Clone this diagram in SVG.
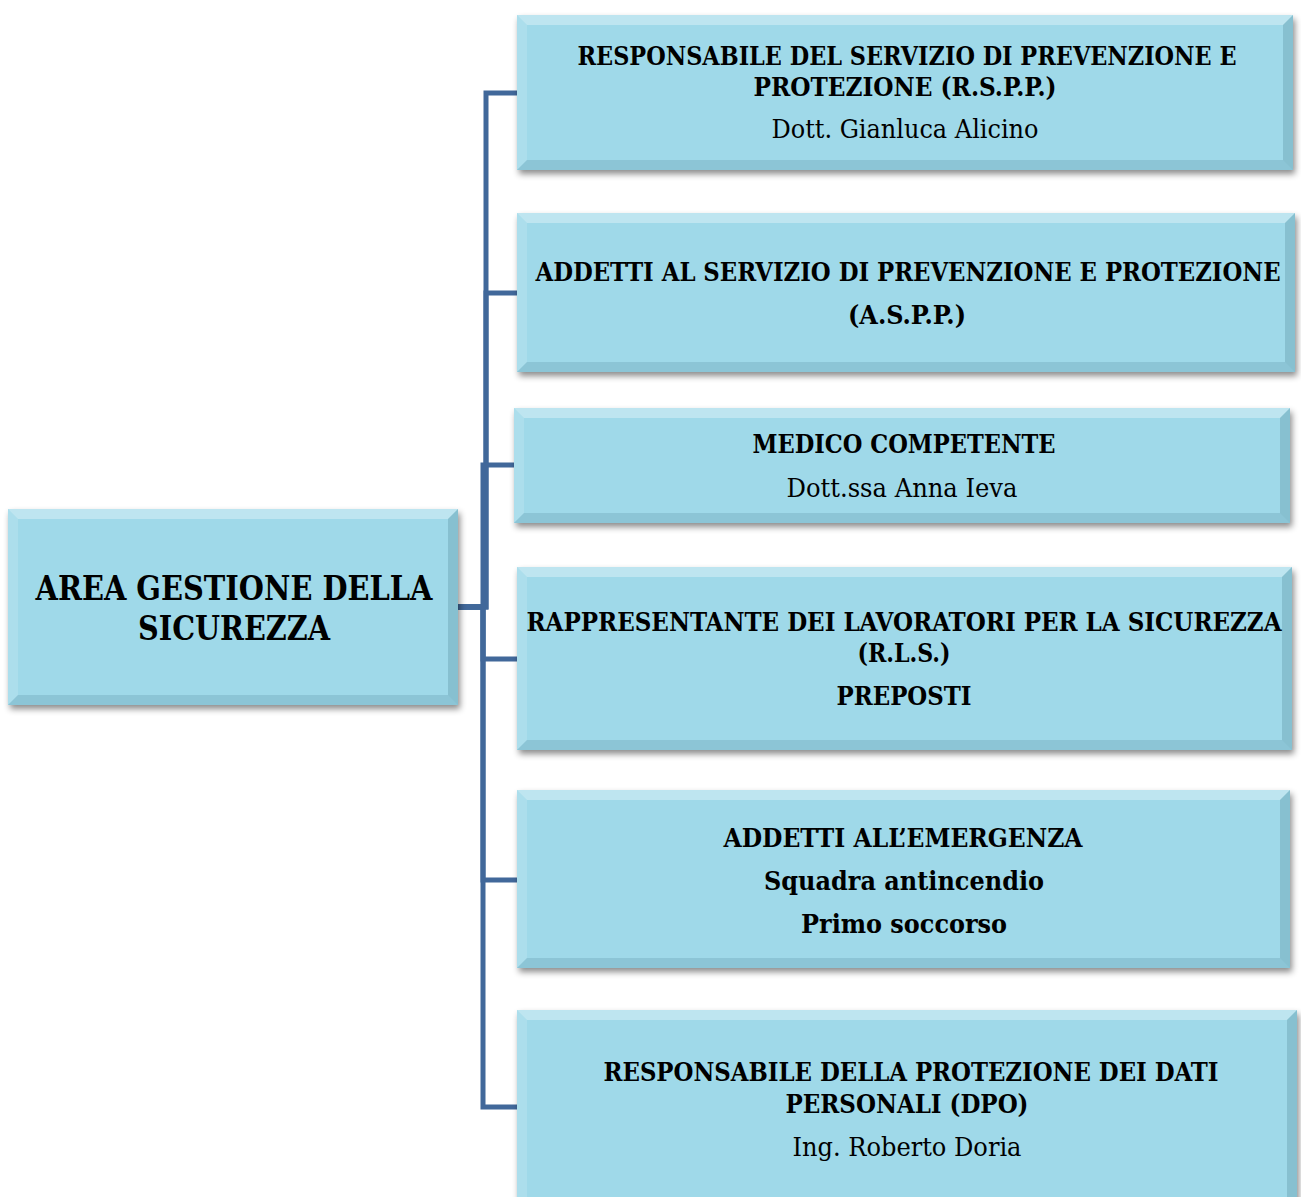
<svg xmlns="http://www.w3.org/2000/svg" width="1301" height="1197" viewBox="0 0 1301 1197">
<style>
.box{fill:#9FD9E9}
.bt{fill:#FFFFFF;fill-opacity:0.32}
.bl{fill:#FFFFFF;fill-opacity:0.14}
.br{fill:#1E4E60;fill-opacity:0.18}
.bb{fill:#1E4E60;fill-opacity:0.14}
.conn{fill:none;stroke:#41689A;stroke-width:5;stroke-linejoin:miter}
.t{font-family:"DejaVu Serif","Liberation Serif",serif;font-stretch:condensed;font-size:26px;font-weight:bold;fill:#000;text-anchor:middle}
.r{font-family:"DejaVu Serif","Liberation Serif",serif;font-stretch:condensed;font-size:26px;font-weight:normal;fill:#000;text-anchor:middle}
.root{font-family:"DejaVu Serif","Liberation Serif",serif;font-stretch:condensed;font-size:34px;font-weight:bold;fill:#000;text-anchor:middle}
</style>
<defs>
<filter id="sh" x="-5%" y="-10%" width="110%" height="125%">
<feDropShadow dx="2" dy="4" stdDeviation="3" flood-color="#000" flood-opacity="0.45"/>
</filter>
</defs>
<rect width="1301" height="1197" fill="#FFFFFF"/>
<g id="connectors">
<path class="conn" d="M458,607 H486 V93 H517"/>
<path class="conn" d="M458,607 H486 V293 H517"/>
<path class="conn" d="M458,607 H483 V465 H514"/>
<path class="conn" d="M458,607 H483 V659 H517"/>
<path class="conn" d="M458,607 H483 V880 H517"/>
<path class="conn" d="M458,607 H483 V1107 H517"/>
</g>
<g id="root">
<rect class="box" x="8" y="509" width="450" height="196" filter="url(#sh)"/>
<polygon class="bt" points="8,509 458,509 448,519 18,519"/>
<polygon class="bl" points="8,509 18,519 18,695 8,705"/>
<polygon class="br" points="458,509 458,705 448,695 448,519"/>
<polygon class="bb" points="8,705 458,705 448,695 18,695"/>
<text class="root" x="234" y="600" textLength="397" lengthAdjust="spacingAndGlyphs">AREA GESTIONE DELLA</text>
<text class="root" x="234" y="640" textLength="192" lengthAdjust="spacingAndGlyphs">SICUREZZA</text>
</g>
<g id="rspp">
<rect class="box" x="517" y="15" width="776" height="155" filter="url(#sh)"/>
<polygon class="bt" points="517,15 1293,15 1283,25 527,25"/>
<polygon class="bl" points="517,15 527,25 527,160 517,170"/>
<polygon class="br" points="1293,15 1293,170 1283,160 1283,25"/>
<polygon class="bb" points="517,170 1293,170 1283,160 527,160"/>
<text class="t" x="907" y="65" textLength="659" lengthAdjust="spacingAndGlyphs">RESPONSABILE DEL SERVIZIO DI PREVENZIONE E</text>
<text class="t" x="905" y="96" textLength="303" lengthAdjust="spacingAndGlyphs">PROTEZIONE (R.S.P.P.)</text>
<text class="r" x="905" y="138" textLength="267" lengthAdjust="spacingAndGlyphs">Dott. Gianluca Alicino</text>
</g>
<g id="aspp">
<rect class="box" x="517" y="213" width="778" height="159" filter="url(#sh)"/>
<polygon class="bt" points="517,213 1295,213 1285,223 527,223"/>
<polygon class="bl" points="517,213 527,223 527,362 517,372"/>
<polygon class="br" points="1295,213 1295,372 1285,362 1285,223"/>
<polygon class="bb" points="517,372 1295,372 1285,362 527,362"/>
<text class="t" x="908" y="281" textLength="745" lengthAdjust="spacingAndGlyphs">ADDETTI AL SERVIZIO DI PREVENZIONE E PROTEZIONE</text>
<text class="t" x="907" y="324" textLength="118" lengthAdjust="spacingAndGlyphs">(A.S.P.P.)</text>
</g>
<g id="medico">
<rect class="box" x="514" y="408" width="776" height="115" filter="url(#sh)"/>
<polygon class="bt" points="514,408 1290,408 1280,418 524,418"/>
<polygon class="bl" points="514,408 524,418 524,513 514,523"/>
<polygon class="br" points="1290,408 1290,523 1280,513 1280,418"/>
<polygon class="bb" points="514,523 1290,523 1280,513 524,513"/>
<text class="t" x="904" y="453" textLength="303" lengthAdjust="spacingAndGlyphs">MEDICO COMPETENTE</text>
<text class="r" x="902" y="497" textLength="231" lengthAdjust="spacingAndGlyphs">Dott.ssa Anna Ieva</text>
</g>
<g id="rls">
<rect class="box" x="517" y="567" width="775" height="183" filter="url(#sh)"/>
<polygon class="bt" points="517,567 1292,567 1282,577 527,577"/>
<polygon class="bl" points="517,567 527,577 527,740 517,750"/>
<polygon class="br" points="1292,567 1292,750 1282,740 1282,577"/>
<polygon class="bb" points="517,750 1292,750 1282,740 527,740"/>
<text class="t" x="904" y="631" textLength="755" lengthAdjust="spacingAndGlyphs">RAPPRESENTANTE DEI LAVORATORI PER LA SICUREZZA</text>
<text class="t" x="904" y="662" textLength="93" lengthAdjust="spacingAndGlyphs">(R.L.S.)</text>
<text class="t" x="904" y="705" textLength="135" lengthAdjust="spacingAndGlyphs">PREPOSTI</text>
</g>
<g id="emergenza">
<rect class="box" x="517" y="790" width="773" height="178" filter="url(#sh)"/>
<polygon class="bt" points="517,790 1290,790 1280,800 527,800"/>
<polygon class="bl" points="517,790 527,800 527,958 517,968"/>
<polygon class="br" points="1290,790 1290,968 1280,958 1280,800"/>
<polygon class="bb" points="517,968 1290,968 1280,958 527,958"/>
<text class="t" x="903" y="847" textLength="359" lengthAdjust="spacingAndGlyphs">ADDETTI ALL’EMERGENZA</text>
<text class="t" x="904" y="890" textLength="280" lengthAdjust="spacingAndGlyphs">Squadra antincendio</text>
<text class="t" x="904" y="933" textLength="206" lengthAdjust="spacingAndGlyphs">Primo soccorso</text>
</g>
<g id="dpo">
<rect class="box" x="517" y="1010" width="780" height="200" filter="url(#sh)"/>
<polygon class="bt" points="517,1010 1297,1010 1287,1020 527,1020"/>
<polygon class="bl" points="517,1010 527,1020 527,1210 517,1210"/>
<polygon class="br" points="1297,1010 1297,1210 1287,1210 1287,1020"/>
<text class="t" x="911" y="1081" textLength="615" lengthAdjust="spacingAndGlyphs">RESPONSABILE DELLA PROTEZIONE DEI DATI</text>
<text class="t" x="907" y="1113" textLength="243" lengthAdjust="spacingAndGlyphs">PERSONALI (DPO)</text>
<text class="r" x="907" y="1156" textLength="229" lengthAdjust="spacingAndGlyphs">Ing. Roberto Doria</text>
</g>
</svg>
